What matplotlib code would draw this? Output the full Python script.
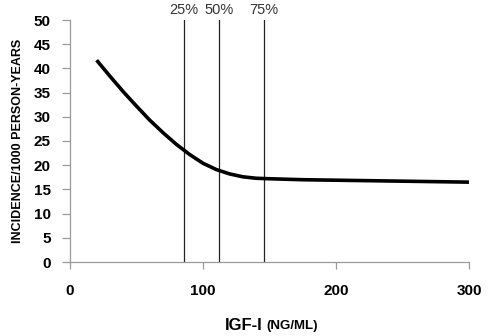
import matplotlib
matplotlib.use("Agg")
import matplotlib.pyplot as plt
import matplotlib.transforms as mtransforms

plt.rcParams['font.family'] = ['Liberation Sans', 'DejaVu Sans']

# Data
igf = [20, 30, 40, 50, 60, 70, 80, 90, 100, 110, 120, 130, 140, 150,
       175, 200, 225, 250, 275, 300]
incidence = [41.7, 38.4, 35.2, 32.2, 29.3, 26.7, 24.3, 22.2, 20.4, 19.1,
             18.2, 17.6, 17.3, 17.2, 17.0, 16.9, 16.8, 16.7, 16.6, 16.5]
quartile_pos = [85.7, 112.0, 146.0]
quartile_labels = ["25%", "50%", "75%"]
x_ticks = [0, 100, 200, 300]
y_ticks = list(range(0, 55, 5))

fig = plt.figure(figsize=(4.9, 3.36), dpi=100)
ax = fig.add_axes([70/490, 1-262/336, (469-70)/490, (262-20)/336])

spine_col = '#9a9a9a'
trans = mtransforms.blended_transform_factory(ax.transData, ax.transAxes)
for q, lab in zip(quartile_pos, quartile_labels):
    ax.axvline(q, ymin=0, ymax=1.0, color='#222222', lw=0.9, zorder=2)
    ax.text(q, 1.0 + 6/242, lab, transform=trans,
            ha='center', va='baseline', fontsize=10.5, color='#333333')

ax.plot(igf, incidence, color='black', lw=2.6, solid_capstyle='butt',
        solid_joinstyle='round', zorder=3)

ax.set_xlim(0, 300)
ax.set_ylim(0, 50)
ax.set_xticks(x_ticks)
ax.set_yticks(y_ticks)
ax.set_xticklabels([str(v) for v in x_ticks], fontweight='bold', fontsize=11)
ax.set_yticklabels([str(v) for v in y_ticks], fontweight='bold', fontsize=11)
ax.tick_params(axis='y', direction='out', length=6, width=0.9, color=spine_col, pad=8)
ax.tick_params(axis='x', direction='out', length=5, width=0.9, color=spine_col, pad=11)

for s in ['top', 'right']:
    ax.spines[s].set_visible(False)
for s in ['left', 'bottom']:
    ax.spines[s].set_color(spine_col)
    ax.spines[s].set_linewidth(0.9)

ax.set_ylabel("INCIDENCE/1000 PERSON-YEARS", fontweight='bold', fontsize=9, labelpad=7)

fig.text(263/490, 1-326/336, "IGF-I", ha='right', va='center', fontweight='bold', fontsize=12)
fig.text(266/490, 1-326/336, "(NG/ML)", ha='left', va='center', fontweight='bold', fontsize=9.5)

fig.savefig("out.png", dpi=100)
